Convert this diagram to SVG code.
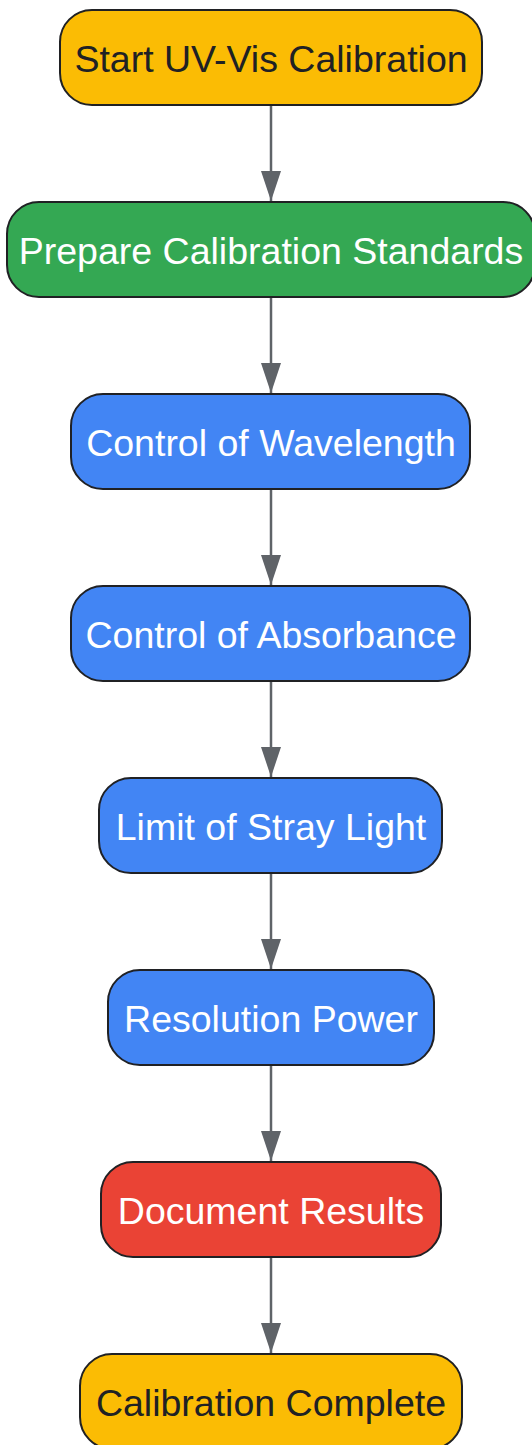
<svg xmlns="http://www.w3.org/2000/svg" width="532" height="1445" viewBox="0 0 532 1445">
<style>
.n rect{stroke:#202124;stroke-width:2}
.n text{font-family:"Liberation Sans",Arial,sans-serif;font-size:37.5px;text-anchor:middle}
.y rect{fill:#FBBC04}.y text{fill:#202124}
.g rect{fill:#34A853}.b rect{fill:#4285F4}.r rect{fill:#EA4335}
.g text,.b text,.r text{fill:#ffffff}
.e line{stroke:#5F6368;stroke-width:2.5}
</style>
<defs>
<marker id="ah" viewBox="0 0 30 20" refX="30" refY="10" markerWidth="30" markerHeight="20" markerUnits="userSpaceOnUse" orient="auto">
<path d="M0,0 L30,10 L0,20 Z" fill="#5F6368"/>
</marker>
</defs>
<g id="edges" class="e">
<line x1="271" y1="105" x2="271" y2="201" marker-end="url(#ah)"/>
<line x1="271" y1="297" x2="271" y2="393" marker-end="url(#ah)"/>
<line x1="271" y1="489" x2="271" y2="585" marker-end="url(#ah)"/>
<line x1="271" y1="681" x2="271" y2="777" marker-end="url(#ah)"/>
<line x1="271" y1="873" x2="271" y2="969" marker-end="url(#ah)"/>
<line x1="271" y1="1065" x2="271" y2="1161" marker-end="url(#ah)"/>
<line x1="271" y1="1257" x2="271" y2="1353" marker-end="url(#ah)"/>
</g>
<g id="n1" class="n y"><rect x="60" y="10" width="422" height="95" rx="32"/><text x="271" y="72">Start UV-Vis Calibration</text></g>
<g id="n2" class="n g"><rect x="7" y="202" width="528" height="95" rx="32"/><text x="271" y="264">Prepare Calibration Standards</text></g>
<g id="n3" class="n b"><rect x="71" y="394" width="399" height="95" rx="32"/><text x="271" y="456">Control of Wavelength</text></g>
<g id="n4" class="n b"><rect x="71" y="586" width="399" height="95" rx="32"/><text x="271" y="648">Control of Absorbance</text></g>
<g id="n5" class="n b"><rect x="99" y="778" width="343" height="95" rx="32"/><text x="271" y="840">Limit of Stray Light</text></g>
<g id="n6" class="n b"><rect x="108" y="970" width="326" height="95" rx="32"/><text x="271" y="1032">Resolution Power</text></g>
<g id="n7" class="n r"><rect x="101" y="1162" width="340" height="95" rx="32"/><text x="271" y="1224">Document Results</text></g>
<g id="n8" class="n y"><rect x="80" y="1354" width="382" height="95" rx="32"/><text x="271" y="1416">Calibration Complete</text></g>
</svg>
